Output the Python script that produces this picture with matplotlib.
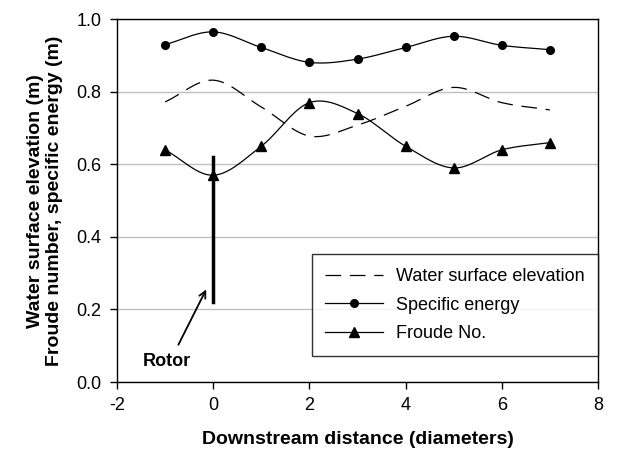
import matplotlib
matplotlib.use('Agg')
import matplotlib.pyplot as plt
from matplotlib.lines import Line2D
import numpy as np

plt.rcParams['font.family'] = ['Liberation Sans', 'DejaVu Sans']

# data
distance = [-1, 0, 1, 2, 3, 4, 5, 6, 7]
water_surface = [0.772, 0.832, 0.758, 0.678, 0.708, 0.760, 0.812, 0.770, 0.750]
specific_energy = [0.930, 0.965, 0.922, 0.881, 0.890, 0.922, 0.953, 0.928, 0.916]
froude = [0.640, 0.570, 0.650, 0.770, 0.740, 0.650, 0.590, 0.640, 0.660]
x_ticks = [-2, 0, 2, 4, 6, 8]
y_ticks = [0.0, 0.2, 0.4, 0.6, 0.8, 1.0]


def smooth(x, y, n=30):
    # Catmull-Rom style smoothing like a spreadsheet "smoothed line"
    x = np.asarray(x, float)
    y = np.asarray(y, float)
    px = np.concatenate([[2 * x[0] - x[1]], x, [2 * x[-1] - x[-2]]])
    py = np.concatenate([[2 * y[0] - y[1]], y, [2 * y[-1] - y[-2]]])
    xs, ys = [], []
    t = np.linspace(0, 1, n)
    for i in range(1, len(px) - 2):
        for p, out in ((px, xs), (py, ys)):
            p0, p1, p2, p3 = p[i - 1], p[i], p[i + 1], p[i + 2]
            out.extend(0.5 * ((2 * p1) + (-p0 + p2) * t
                              + (2 * p0 - 5 * p1 + 4 * p2 - p3) * t ** 2
                              + (-p0 + 3 * p1 - 3 * p2 + p3) * t ** 3))
    return xs, ys


fig = plt.figure(figsize=(6.43, 4.57), dpi=100)
ax = fig.add_axes([0.182, 0.164, 0.748, 0.794])

ax.grid(axis='y', color='#c0c0c0', linewidth=1)
ax.set_axisbelow(True)

dash = (12.5, 7)
sx, sy = smooth(distance, water_surface)
ax.plot(sx, sy, color='black', linewidth=0.9, dashes=dash)
sx, sy = smooth(distance, specific_energy)
ax.plot(sx, sy, color='black', linewidth=0.9)
ax.plot(distance, specific_energy, 'o', color='black', markersize=5.5)
sx, sy = smooth(distance, froude)
ax.plot(sx, sy, color='black', linewidth=0.9)
ax.plot(distance, froude, '^', color='black', markersize=6.5)

# rotor marker
ax.plot([0, 0], [0.22, 0.62], color='black', linewidth=2.5)
ax.annotate('', xy=(-0.12, 0.262), xytext=(-0.75, 0.096),
            arrowprops=dict(arrowstyle='->', color='black', lw=1.3,
                            mutation_scale=12))
ax.text(-1.47, 0.058, 'Rotor', fontsize=13, fontweight='bold', ha='left',
        va='center')

handles = [Line2D([], [], color='black', linewidth=0.9, dashes=dash),
           Line2D([], [], color='black', linewidth=0.9, marker='o', markersize=5.5),
           Line2D([], [], color='black', linewidth=0.9, marker='^', markersize=6.5)]
leg = ax.legend(handles, ['Water surface elevation', 'Specific energy', 'Froude No.'],
                loc='lower right', bbox_to_anchor=(1.0, 0.072), fontsize=13,
                frameon=True, fancybox=False, handlelength=3.2,
                borderpad=0.75, labelspacing=0.65, handletextpad=0.7,
                borderaxespad=0)
leg.get_frame().set_edgecolor('black')
leg.get_frame().set_linewidth(1.0)

ax.set_xlim(-2, 8)
ax.set_ylim(0, 1.0)
ax.set_xticks(x_ticks)
ax.set_xticklabels([str(v) for v in x_ticks])
ax.set_yticks(y_ticks)
ax.set_yticklabels(['%.1f' % v for v in y_ticks])
ax.tick_params(direction='out', length=5, width=1, labelsize=13, pad=6)
for s in ax.spines.values():
    s.set_linewidth(1.0)

ax.set_xlabel('Downstream distance (diameters)', fontsize=14,
              fontweight='bold', labelpad=12)
ax.set_ylabel('Water surface elevation (m)\nFroude number, specific energy (m)',
              fontsize=14, fontweight='bold', labelpad=10, linespacing=1.15)

fig.savefig('out.png', dpi=100, facecolor='white')
